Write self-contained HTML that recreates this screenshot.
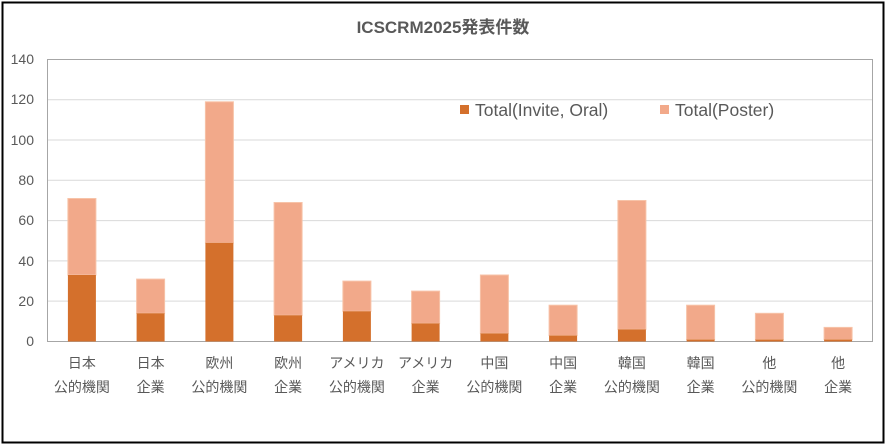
<!DOCTYPE html>
<html><head><meta charset="utf-8"><style>
html,body{margin:0;padding:0;background:#fff;}
svg{display:block;font-family:"Liberation Sans","Noto Sans CJK JP",sans-serif;}
</style></head><body>
<svg width="887" height="446" viewBox="0 0 887 446" xmlns="http://www.w3.org/2000/svg">
<rect x="0" y="0" width="887" height="446" fill="#fff"/>
<rect x="2.5" y="2.5" width="881" height="440" fill="none" stroke="#000" stroke-width="2"/>
<text x="443" y="33" text-anchor="middle" font-size="17" font-weight="bold" fill="#595959">ICSCRM2025発表件数</text>
<g stroke="#d9d9d9" stroke-width="1">
<line x1="47" y1="99.7" x2="872" y2="99.7"/>
<line x1="47" y1="140" x2="872" y2="140"/>
<line x1="47" y1="180.3" x2="872" y2="180.3"/>
<line x1="47" y1="220.6" x2="872" y2="220.6"/>
<line x1="47" y1="260.9" x2="872" y2="260.9"/>
<line x1="47" y1="301.1" x2="872" y2="301.1"/>
</g>
<rect x="47.5" y="59.5" width="825" height="282" fill="none" stroke="#a6a6a6" stroke-width="1"/>
<g font-size="14" fill="#595959" text-anchor="end">
<text x="34" y="64">140</text><text x="34" y="104">120</text><text x="34" y="145">100</text>
<text x="34" y="185">80</text><text x="34" y="225">60</text><text x="34" y="266">40</text>
<text x="34" y="306">20</text><text x="34" y="346">0</text>
</g>
<g stroke="#F7C3A8" stroke-width="1" fill="#F2A98A">
<rect x="67.9" y="198.5" width="28" height="76.5"/>
<rect x="136.6" y="279.1" width="28" height="34.2"/>
<rect x="205.4" y="101.8" width="28" height="141"/>
<rect x="274.1" y="202.5" width="28" height="112.8"/>
<rect x="342.9" y="281.1" width="28" height="30.2"/>
<rect x="411.6" y="291.1" width="28" height="32.3"/>
<rect x="480.4" y="275" width="28" height="58.4"/>
<rect x="549.1" y="305.2" width="28" height="30.3"/>
<rect x="617.9" y="200.5" width="28" height="128.9"/>
<rect x="686.6" y="305.2" width="28" height="34.3"/>
<rect x="755.4" y="313.3" width="28" height="26.2"/>
<rect x="824.1" y="327.4" width="28" height="12.1"/>
</g>
<g fill="#D4702C">
<rect x="67.9" y="275" width="28" height="66.5"/>
<rect x="136.6" y="313.3" width="28" height="28.2"/>
<rect x="205.4" y="242.8" width="28" height="98.7"/>
<rect x="274.1" y="315.3" width="28" height="26.2"/>
<rect x="342.9" y="311.3" width="28" height="30.2"/>
<rect x="411.6" y="323.4" width="28" height="18.1"/>
<rect x="480.4" y="333.4" width="28" height="8.1"/>
<rect x="549.1" y="335.5" width="28" height="6"/>
<rect x="617.9" y="329.4" width="28" height="12.1"/>
<rect x="686.6" y="339.5" width="28" height="2"/>
<rect x="755.4" y="339.5" width="28" height="2"/>
<rect x="824.1" y="339.5" width="28" height="2"/>
</g>
<g font-size="14" fill="#595959" text-anchor="middle">
<text x="81.9" y="368">日本</text><text x="81.9" y="392">公的機関</text>
<text x="150.6" y="368">日本</text><text x="150.6" y="392">企業</text>
<text x="219.4" y="368">欧州</text><text x="219.4" y="392">公的機関</text>
<text x="288.1" y="368">欧州</text><text x="288.1" y="392">企業</text>
<text x="356.9" y="368">アメリカ</text><text x="356.9" y="392">公的機関</text>
<text x="425.6" y="368">アメリカ</text><text x="425.6" y="392">企業</text>
<text x="494.4" y="368">中国</text><text x="494.4" y="392">公的機関</text>
<text x="563.1" y="368">中国</text><text x="563.1" y="392">企業</text>
<text x="631.9" y="368">韓国</text><text x="631.9" y="392">公的機関</text>
<text x="700.6" y="368">韓国</text><text x="700.6" y="392">企業</text>
<text x="769.4" y="368">他</text><text x="769.4" y="392">公的機関</text>
<text x="838.1" y="368">他</text><text x="838.1" y="392">企業</text>
</g>
<rect x="460" y="105" width="9" height="9" fill="#D4702C"/>
<text x="475" y="116" font-size="17.5" fill="#595959">Total(Invite, Oral)</text>
<rect x="660" y="105" width="9" height="9" fill="#F2A98A"/>
<text x="675" y="116" font-size="17.5" fill="#595959">Total(Poster)</text>
</svg>
</body></html>
